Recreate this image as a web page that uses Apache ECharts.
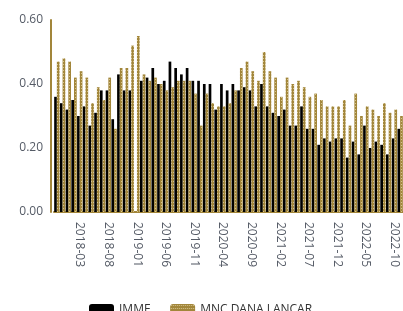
<!DOCTYPE html>
<html>
<head>
    <meta charset="utf-8">
    <title>IMMF vs MNC DANA LANCAR</title>
    <script src="https://cdn.jsdelivr.net/npm/echarts@6/dist/echarts.min.js"></script>
    <style>
        html, body { margin: 0; padding: 0; background: #fff; }
    </style>
</head>
<body>
    <div id="main" style="width: 403px;height:311px;"></div>
    <script type="text/javascript">
        // months, 2017-11 .. 2022-11
        var months = [
          '2017-11','2017-12','2018-01','2018-02','2018-03','2018-04','2018-05','2018-06','2018-07','2018-08',
          '2018-09','2018-10','2018-11','2018-12','2019-01','2019-02','2019-03','2019-04','2019-05','2019-06',
          '2019-07','2019-08','2019-09','2019-10','2019-11','2019-12','2020-01','2020-02','2020-03','2020-04',
          '2020-05','2020-06','2020-07','2020-08','2020-09','2020-10','2020-11','2020-12','2021-01','2021-02',
          '2021-03','2021-04','2021-05','2021-06','2021-07','2021-08','2021-09','2021-10','2021-11','2021-12',
          '2022-01','2022-02','2022-03','2022-04','2022-05','2022-06','2022-07','2022-08','2022-09','2022-10',
          '2022-11'
        ];
        var immf = [
          0.36,0.34,0.32,0.35,0.30,0.33,0.27,0.31,0.38,0.38,
          0.29,0.43,0.38,0.38,null,0.41,0.42,0.45,0.40,0.41,
          0.47,0.45,0.43,0.45,0.41,0.41,0.40,0.40,0.32,0.40,
          0.38,0.40,0.38,0.39,0.38,0.33,0.40,0.33,0.31,0.30,
          0.32,0.27,0.27,0.33,0.26,0.26,0.21,0.23,0.22,0.23,
          0.23,0.17,0.22,0.18,0.27,0.20,0.22,0.21,0.18,0.23,
          0.26
        ];
        var mncDanaLancar = [
          0.47,0.48,0.47,0.42,0.44,0.42,0.34,0.39,0.35,0.42,
          0.26,0.45,0.45,0.52,0.55,0.43,0.41,0.42,0.40,0.38,
          0.39,0.41,0.41,0.41,0.37,0.27,0.37,0.34,0.33,0.33,
          0.34,0.38,0.45,0.47,0.44,0.41,0.50,0.44,0.42,0.36,
          0.42,0.40,0.41,0.39,0.36,0.37,0.35,0.33,0.33,0.33,
          0.35,0.27,0.37,0.30,0.33,0.32,0.30,0.34,0.31,0.32,
          0.30
        ];
        var yTicks = [0, 0.2, 0.4, 0.6];

        var gold = '#a2863a';
        // dotted texture for the gold bars
        var tile = document.createElement('canvas');
        tile.width = 2; tile.height = 3;
        var ctx = tile.getContext('2d');
        ctx.fillStyle = gold;
        ctx.fillRect(0, 0, 2, 3);
        ctx.fillStyle = '#d6c48e';
        ctx.fillRect(1, 1, 1, 1);

        var font = "'Open Sans', 'DejaVu Sans', sans-serif";
        var myChart = echarts.init(document.getElementById('main'));
        var option = {
          animation: false,
          grid: { left: 54, top: 20, width: 352.6, height: 192 },
          legend: {
            left: 84, top: 299,
            itemWidth: 25, itemHeight: 12, itemGap: 20,
            textStyle: { fontFamily: font, fontSize: 12, color: '#333' },
            data: ['IMMF', 'MNC DANA LANCAR']
          },
          xAxis: {
            type: 'category',
            data: months,
            axisLine: { lineStyle: { color: gold, width: 2 } },
            axisTick: { show: false },
            axisLabel: {
              rotate: -90, margin: 10,
              interval: function (idx) { return idx % 5 === 4; },
              fontFamily: font, fontSize: 12, color: '#555b66'
            }
          },
          yAxis: {
            type: 'value',
            min: yTicks[0], max: yTicks[yTicks.length - 1], interval: 0.2,
            offset: 3,
            axisLine: { show: true, lineStyle: { color: gold, width: 2 } },
            axisTick: { show: false },
            splitLine: { show: false },
            axisLabel: {
              margin: 8,
              formatter: function (v) { return v.toFixed(2); },
              fontFamily: font, fontSize: 12, color: '#555b66'
            }
          },
          series: [{
            name: 'IMMF',
            type: 'bar',
            barGap: 0,
            barCategoryGap: '6%',
            itemStyle: { color: '#000' },
            data: immf
          }, {
            name: 'MNC DANA LANCAR',
            type: 'bar',
            barGap: 0,
            barCategoryGap: '6%',
            itemStyle: { color: { image: tile, repeat: 'repeat' } },
            data: mncDanaLancar
          }]
        };
        myChart.setOption(option);
    </script>
</body>
</html>
